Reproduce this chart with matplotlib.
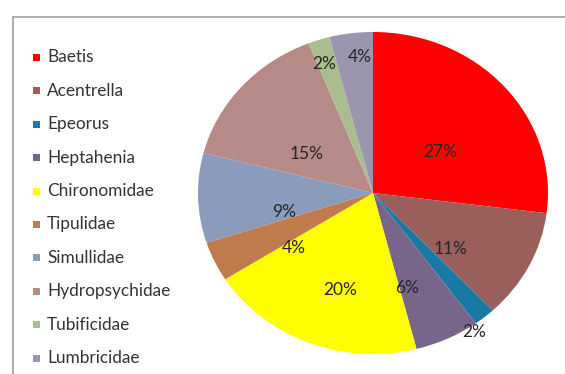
import numpy as np
import matplotlib
matplotlib.use("Agg")
import matplotlib.pyplot as plt
from matplotlib.lines import Line2D
from matplotlib.patches import Rectangle

# taxa and their share of the sample (%)
taxa = ["Baetis", "Acentrella", "Epeorus", "Heptahenia", "Chironomidae",
        "Tipulidae", "Simullidae", "Hydropsychidae", "Tubificidae", "Lumbricidae"]
share = [27, 11, 2, 6, 20, 4, 9, 15, 2, 4]

colors = ["#FF0000", "#9A5E5B", "#1A78A4", "#776689", "#FFFF00",
          "#C07A4C", "#8A9BBB", "#B68A87", "#A8BE8E", "#9C95AE"]
# percentage label placement: distance from centre (fraction of radius)
# and a small turn (degrees) away from the wedge's middle
label_r = [0.46, 0.56, 1.04, 0.62, 0.63, 0.57, 0.52, 0.45, 0.85, 0.85]
label_turn = [-8, -11, -6, -7, 4, 12, 11, 9, 1, -2]

plt.rcParams["font.family"] = ["Lato", "DejaVu Sans"]

W, H = 565, 374
fig = plt.figure(figsize=(W / 100, H / 100), dpi=100)

# pie box in pixels: x 198..548, y 32..354 (slightly wider than tall)
ax = fig.add_axes([198 / W, 1 - 354 / H, 350 / W, 322 / H])
wedges, _ = ax.pie(share, colors=colors, startangle=90, counterclock=False,
                   radius=1.0, wedgeprops=dict(linewidth=0))
ax.set_aspect("auto")
ax.set_xlim(-1, 1)
ax.set_ylim(-1, 1)
ax.axis("off")

for w, v, r, t in zip(wedges, share, label_r, label_turn):
    ang = np.deg2rad((w.theta1 + w.theta2) / 2 + t)
    ax.text(r * np.cos(ang), r * np.sin(ang), f"{v}%", ha="center", va="center",
            fontsize=12.5, color="#262626")

# legend down the left side
for i, (name, c) in enumerate(zip(taxa, colors)):
    yc = 57.5 + i * 33.4
    fig.patches.append(Rectangle((33 / W, 1 - (yc + 3.5) / H), 7 / W, 7 / H,
                                 transform=fig.transFigure, color=c, lw=0))
    fig.text(47 / W, 1 - yc / H, name, ha="left", va="center",
             fontsize=12.4, color="#333333")

# chart frame (left and top edges)
fig.lines.append(Line2D([13 / W, 13 / W], [0, 1 - 17 / H], transform=fig.transFigure,
                        color="#A8A8A8", lw=1.3))
fig.lines.append(Line2D([13 / W, 1], [1 - 17 / H, 1 - 17 / H], transform=fig.transFigure,
                        color="#A8A8A8", lw=1.3))

fig.savefig("out.png", dpi=100)
